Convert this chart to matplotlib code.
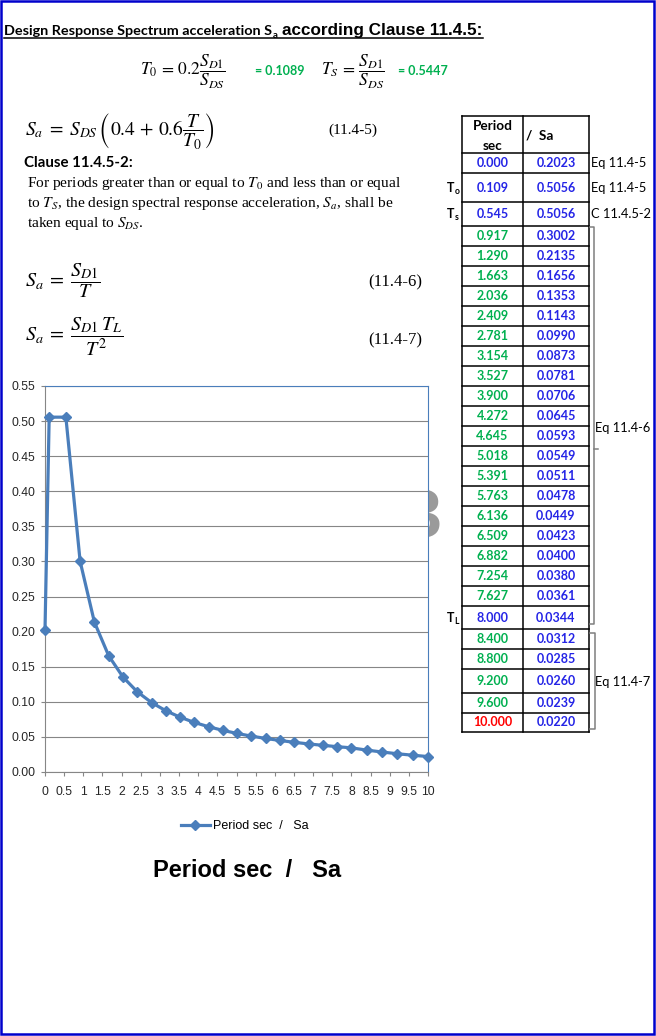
import matplotlib
matplotlib.use('Agg')
import matplotlib.pyplot as plt
from matplotlib.patches import Rectangle
from matplotlib.ticker import MultipleLocator, FuncFormatter

# ---------------- data ----------------
periods = [0.000, 0.109, 0.545, 0.917, 1.290, 1.663, 2.036, 2.409, 2.781, 3.154,
           3.527, 3.900, 4.272, 4.645, 5.018, 5.391, 5.763, 6.136, 6.509, 6.882,
           7.254, 7.627, 8.000, 8.400, 8.800, 9.200, 9.600, 10.000]
sa = [0.2023, 0.5056, 0.5056, 0.3002, 0.2135, 0.1656, 0.1353, 0.1143, 0.0990, 0.0873,
      0.0781, 0.0706, 0.0645, 0.0593, 0.0549, 0.0511, 0.0478, 0.0449, 0.0423, 0.0400,
      0.0380, 0.0361, 0.0344, 0.0312, 0.0285, 0.0260, 0.0239, 0.0220]
T0_val = 0.1089
Ts_val = 0.5447
series_name = 'Period sec  /   Sa'
row_T_labels = {1: 'o', 2: 's', 22: 'L'}
row_eq_labels = {0: 'Eq 11.4-5', 1: 'Eq 11.4-5', 2: 'C 11.4.5-2'}
group_labels = ['Eq 11.4-6', 'Eq 11.4-7']

# ---------------- style ----------------
plt.rcParams['font.family'] = ['Liberation Sans', 'DejaVu Sans']
plt.rcParams['mathtext.fontset'] = 'stix'
BLUE = '#2424E6'
GREEN = '#00B050'
RED = '#FF0000'
LINE = '#4A7EBB'
GRID = '#868686'

fig = plt.figure(figsize=(6.56, 10.36), dpi=100)
ov = fig.add_axes([0, 0, 1, 1], zorder=-1)
ov.set_xlim(0, 656)
ov.set_ylim(1036, 0)
ov.axis('off')
renderer = fig.canvas.get_renderer()

# outer frame
ov.add_patch(Rectangle((1, 1), 653, 1033, fill=False, ec='#0000CC', lw=1.8))

# ---------------- title ----------------
t1 = ov.text(4, 35, 'Design Response Spectrum acceleration S', fontfamily='Lato',
             fontweight='bold', fontsize=10.4, va='baseline')
bb = t1.get_window_extent(renderer)
t2 = ov.text(bb.x1 + 0.5, 37.5, 'a', fontfamily='Lato', fontweight='bold', fontsize=7, va='baseline')
bb2 = t2.get_window_extent(renderer)
t3 = ov.text(bb2.x1 + 5, 35, 'according Clause 11.4.5:', fontweight='bold', fontsize=12.3, va='baseline')
bb3 = t3.get_window_extent(renderer)
ov.plot([4, bb3.x1], [38, 38], color='black', lw=1.1)

# ---------------- equations ----------------
ov.text(140, 72, r'$T_0 \,=\, 0.2\dfrac{S_{D1}}{S_{DS}}$', fontsize=12.5, va='center')
ov.text(255, 71, f'= {T0_val:.4f}', color=GREEN, fontfamily='Lato', fontweight='bold', fontsize=9, va='center')
ov.text(321, 72, r'$T_S \,=\, \dfrac{S_{D1}}{S_{DS}}$', fontsize=12.5, va='center')
ov.text(398, 71, f'= {Ts_val:.4f}', color=GREEN, fontfamily='Lato', fontweight='bold', fontsize=9, va='center')

ov.text(25, 131, r'$S_a \;=\; S_{DS}\,\left(0.4 \,+\, 0.6\dfrac{T}{T_0}\right)$', fontsize=14, va='center')
ov.text(328, 130, '(11.4-5)', fontfamily='Liberation Serif', fontsize=11, va='center')
ov.text(24, 163, 'Clause 11.4.5-2:', fontfamily='Lato', fontweight='bold', fontsize=10.8, va='center')
para = [r'For periods greater than or equal to $T_0$ and less than or equal',
        r'to $T_S$, the design spectral response acceleration, $S_a$, shall be',
        r'taken equal to $S_{DS}$.']
for k, line in enumerate(para):
    ov.text(27, 184 + 20 * k, line, fontfamily='Liberation Serif', fontsize=11.1, va='center')

ov.text(25, 281, r'$S_a \;=\; \dfrac{S_{D1}}{T}$', fontsize=14.5, va='center')
ov.text(368, 282, '(11.4-6)', fontfamily='Liberation Serif', fontsize=12, va='center')
ov.text(25, 337, r'$S_a \;=\; \dfrac{S_{D1}\,T_L}{T^2}$', fontsize=14.5, va='center')
ov.text(368, 340, '(11.4-7)', fontfamily='Liberation Serif', fontsize=12, va='center')

# ---------------- table ----------------
tx0, tx1, tx2 = 462, 523, 589
head_top = 116
edges = [153, 173, 202, 226] + [226 + 20 * k for k in range(1, 20)] + [629, 649, 669, 693, 713, 732]
lw_t = 1.1
for y in [head_top] + edges:
    ov.plot([tx0, tx2], [y, y], color='black', lw=lw_t, solid_capstyle='projecting')
for x in (tx0, tx1, tx2):
    ov.plot([x, x], [head_top, edges[-1]], color='black', lw=lw_t, solid_capstyle='projecting')

tf = dict(fontfamily='Lato', fontweight='bold', fontsize=9, ha='center', va='center')
ov.text((tx0 + tx1) / 2, 126, 'Period', color='black', fontfamily='Lato', fontweight='bold',
        fontsize=9.8, ha='center', va='center')
ov.text((tx0 + tx1) / 2, 146, 'sec', color='black', fontfamily='Lato', fontweight='bold',
        fontsize=9.8, ha='center', va='center')
ov.text(526, 135, '/  Sa', color='black', fontfamily='Lato', fontweight='bold', fontsize=9.8,
        ha='left', va='center')

n = len(periods)
for i, (p, s) in enumerate(zip(periods, sa)):
    ym = (edges[i] + edges[i + 1]) / 2
    if i == n - 1:
        pc = RED
    elif i < 3 or i in row_T_labels:
        pc = BLUE
    else:
        pc = GREEN
    ov.text((tx0 + tx1) / 2, ym, f'{p:.3f}', color=pc, **tf)
    ov.text((tx1 + tx2) / 2, ym, f'{s:.4f}', color=BLUE, **tf)
    if i in row_T_labels:
        ov.text(447, ym + 0.5, 'T', fontfamily='Lato', fontweight='bold', fontsize=9, va='center')
        ov.text(454.5, ym + 3.5, row_T_labels[i], fontfamily='Lato', fontweight='bold', fontsize=6.2, va='center')
    if i in row_eq_labels:
        ov.text(591, ym, row_eq_labels[i], fontfamily='Lato', fontsize=9.3, va='center', ha='left')

# brackets
bc = '#7F7F7F'
ov.plot([590, 594, 594, 590], [227, 227, 624, 624], color=bc, lw=1.1)
ov.plot([594, 598], [449, 449], color=bc, lw=1.1)
ov.plot([590, 595, 595, 590], [633, 633, 729, 729], color=bc, lw=1.1)
ov.text(595, 428, group_labels[0], fontfamily='Lato', fontsize=9.3, va='center', ha='left')
ov.text(595, 682, group_labels[1], fontfamily='Lato', fontsize=9.3, va='center', ha='left')

# partially hidden grey "3" behind the chart
ov.text(441, 537, '3', fontsize=49, fontweight='bold', color='#9A9A9A', ha='right', va='baseline')

# ---------------- chart ----------------
ax = fig.add_axes([45 / 656, 1 - 772 / 1036, 383 / 656, 386 / 1036], zorder=1)
ax.set_facecolor('white')
ax.plot(periods, sa, color=LINE, lw=2.3, marker='D', ms=4.8, mfc=LINE, mec=LINE,
        label=series_name, zorder=3, clip_on=False)
ax.set_xlim(0, 10)
ax.set_ylim(0, 0.55)
ax.xaxis.set_major_locator(MultipleLocator(0.5))
ax.yaxis.set_major_locator(MultipleLocator(0.05))
ax.xaxis.set_major_formatter(FuncFormatter(lambda v, _: f'{v:g}'))
ax.yaxis.set_major_formatter(FuncFormatter(lambda v, _: f'{v:.2f}'))
ax.grid(axis='y', color=GRID, lw=0.8)
ax.set_axisbelow(True)
for side in ('left', 'bottom'):
    ax.spines[side].set_color(GRID)
    ax.spines[side].set_linewidth(0.8)
for side in ('top', 'right'):
    ax.spines[side].set_color(LINE)
    ax.spines[side].set_linewidth(0.8)
ax.tick_params(direction='out', length=3, width=0.8, color=GRID, labelsize=8.7, labelcolor='#262626')
ax.tick_params(axis='x', pad=7)
ax.tick_params(axis='y', pad=4)

ax.legend(loc='center', bbox_to_anchor=(245 / 656, 1 - 826 / 1036), bbox_transform=fig.transFigure,
          frameon=False, fontsize=9, handlelength=2.3, handletextpad=0.3)

ov.text(247, 877, series_name, ha='center', va='baseline', fontsize=17, fontweight='bold')

fig.savefig('out.png', dpi=100)
